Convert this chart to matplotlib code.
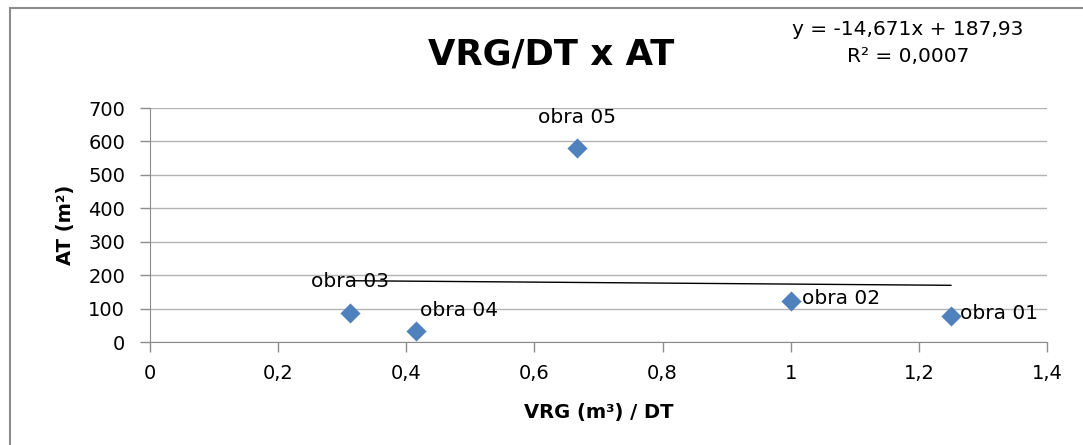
"""Scatter VRG/DT x AT with linear trendline (Excel style)."""

import matplotlib

matplotlib.use("Agg")
import matplotlib.pyplot as plt
from matplotlib.patches import Rectangle
from matplotlib.ticker import FuncFormatter, MultipleLocator

# data
obras = ["obra 01", "obra 02", "obra 03", "obra 04", "obra 05"]
vrg_dt = [1.25, 1.0, 0.312, 0.415, 0.667]
at_m2 = [78, 123, 88, 32, 580]

# trendline as printed on the chart
slope = -14.671
intercept = 187.93
r_squared = "0,0007"

# label placement (pixel offsets from each point)
label_offsets = {
    "obra 01": (9, 2, "left"),
    "obra 02": (11, 2, "left"),
    "obra 03": (0, 31, "center"),
    "obra 04": (4, 21, "left"),
    "obra 05": (0, 31, "center"),
}

FONT = ["DejaVu Sans"]
BLUE = "#4f81bd"
GRID = "#b3b3b3"


def comma(v, _pos):
    s = f"{v:.1f}".rstrip("0").rstrip(".")
    return s.replace(".", ",")


def main() -> None:
    plt.rcParams["font.family"] = FONT
    fig = plt.figure(figsize=(10.83, 4.45), dpi=100)
    W, H = 1083, 445

    # outer chart frame (cropped at right/bottom)
    fig.patches.append(
        Rectangle((10 / W, -0.1), 1.2, 1 - 8 / H + 0.1, transform=fig.transFigure,
                  fill=False, edgecolor="#8c8c8c", linewidth=1.5)
    )

    ax = fig.add_axes([150 / W, 1 - 342 / H, 897 / W, 234 / H])
    ax.set_xlim(0, 1.4)
    ax.set_ylim(0, 700)
    ax.xaxis.set_major_locator(MultipleLocator(0.2))
    ax.yaxis.set_major_locator(MultipleLocator(100))
    ax.xaxis.set_major_formatter(FuncFormatter(comma))
    ax.grid(axis="y", color=GRID, linewidth=1.0)
    ax.set_axisbelow(True)
    for side in ("top", "right"):
        ax.spines[side].set_visible(False)
    for side in ("left", "bottom"):
        ax.spines[side].set_color("#8c8c8c")
    ax.tick_params(axis="both", colors="#8c8c8c", labelcolor="black", labelsize=14,
                   length=7, width=1)
    ax.tick_params(axis="x", pad=9)
    ax.tick_params(axis="y", pad=11)

    # trendline over the data range
    x0, x1 = min(vrg_dt), max(vrg_dt)
    ax.plot([x0, x1], [slope * x0 + intercept, slope * x1 + intercept],
            color="black", linewidth=1.0, zorder=2)

    ax.scatter(vrg_dt, at_m2, marker="D", s=105, color=BLUE, zorder=3, linewidths=0)

    for name, x, y in zip(obras, vrg_dt, at_m2):
        dx, dy, ha = label_offsets[name]
        ax.annotate(name, (x, y), xytext=(dx, dy), textcoords="offset pixels",
                    ha=ha, va="center", fontsize=14.5, zorder=4)

    ax.set_xlabel("VRG (m³) / DT", fontsize=14, fontweight="bold", labelpad=14)
    ax.set_ylabel("AT (m²)", fontsize=14, fontweight="bold", labelpad=9)

    fig.text(551 / W, 1 - 54 / H, "VRG/DT x AT", ha="center", va="center",
             fontsize=25.5, fontweight="bold")
    fig.text(908 / W, 1 - 43 / H,
             f"y = {slope:.3f}x + {intercept:.2f}".replace(".", ",")
             + f"\nR² = {r_squared}",
             ha="center", va="center", fontsize=14.5, linespacing=1.5)

    fig.savefig("out.png", dpi=100, facecolor="white")
    plt.close(fig)


if __name__ == "__main__":
    main()
